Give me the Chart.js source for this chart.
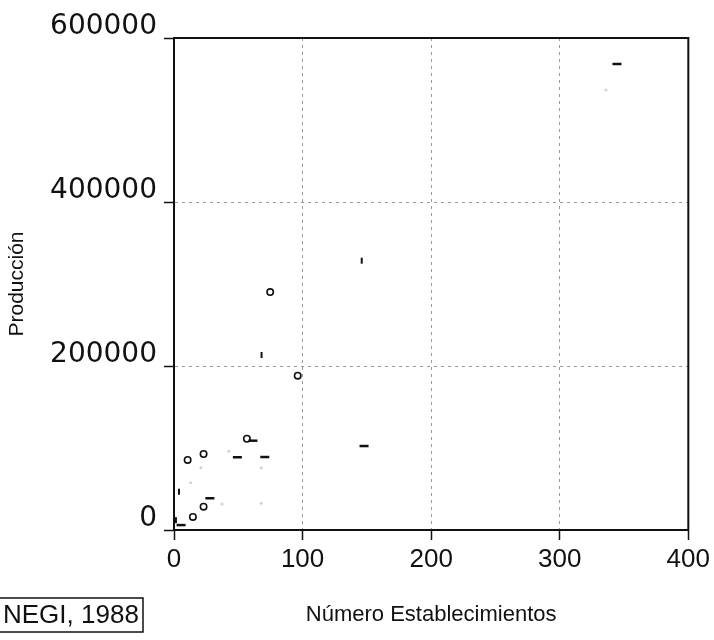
<!DOCTYPE html>
<html>
<head>
<meta charset="utf-8">
<script src="https://cdn.jsdelivr.net/npm/chart.js@4.4.1/dist/chart.umd.min.js"></script>
<style>
  html, body { margin: 0; padding: 0; background: #fff; }
  #chart { display: block; }
</style>
</head>
<body>
<canvas id="chart" width="714" height="640"></canvas>
<script>
// values (x = establecimientos, y = produccion)
const circleX = [10.6, 23, 56.7, 23, 14.7, 74.8, 96.2];
const circleY = [85400, 92700, 111300, 28400, 15900, 290200, 188200];

const dashX = [61.4, 49.3, 70.6, 27.9, 5.5, 147.8, 344.5];
const dashY = [108900, 88700, 89000, 38700, 6000, 102400, 568300];

const tickX = [3.9, 1.5, 68.1, 146];
const tickY = [46700, 12000, 213400, 328400];

const faintX = [42.6, 20.9, 67.9, 12.9, 37.4, 67.9, 336];
const faintY = [96000, 76000, 76000, 57700, 31700, 32600, 536600];

const xTicks = [0, 100, 200, 300, 400];
const yTicks = [0, 200000, 400000, 600000];

const xTitle = "Número Establecimientos";
const yTitle = "Producción";
const sourceNote = "NEGI, 1988";

function pts(xs, ys) {
  return xs.map((x, i) => ({ x: x, y: ys[i] }));
}

const xMax = xTicks[xTicks.length - 1];
const yMax = yTicks[yTicks.length - 1];

function gridColor(max) {
  return ctx => (ctx.tick && (ctx.tick.value === 0 || ctx.tick.value === max)) ? "rgba(0,0,0,0)" : "#9a9a9a";
}

// box round the chart area + source note at bottom left
const framePlugin = {
  id: "frame",
  afterDraw(chart) {
    const ctx = chart.ctx;
    const a = chart.chartArea;
    ctx.save();
    ctx.strokeStyle = "#111";
    ctx.lineWidth = 2;
    ctx.strokeRect(a.left, a.top, a.right - a.left, a.bottom - a.top);
    ctx.lineWidth = 1.5;
    ctx.strokeRect(-2, 598, 145, 34);
    ctx.fillStyle = "#111";
    ctx.font = "26px 'Liberation Sans', Arial, sans-serif";
    ctx.textBaseline = "middle";
    ctx.fillText(sourceNote, 3, 616);
    ctx.restore();
  }
};

new Chart(document.getElementById("chart"), {
  type: "scatter",
  data: {
    datasets: [
      {
        label: "faint",
        data: pts(faintX, faintY),
        pointStyle: "circle",
        pointRadius: 1.5,
        backgroundColor: "#d2d2d2",
        borderColor: "#d2d2d2",
        borderWidth: 0,
        clip: false
      },
      {
        label: "circles",
        data: pts(circleX, circleY),
        pointStyle: "circle",
        pointRadius: 3.2,
        backgroundColor: "rgba(0,0,0,0)",
        borderColor: "#111",
        borderWidth: 1.6,
        clip: false
      },
      {
        label: "dashes",
        data: pts(dashX, dashY),
        pointStyle: "line",
        pointRadius: 4.5,
        borderColor: "#111",
        borderWidth: 2.5,
        clip: false
      },
      {
        label: "ticks",
        data: pts(tickX, tickY),
        pointStyle: "line",
        pointRotation: 90,
        pointRadius: 3,
        borderColor: "#111",
        borderWidth: 2,
        clip: false
      }
    ]
  },
  options: {
    responsive: false,
    animation: false,
    events: [],
    layout: { padding: { top: 38, right: 23, left: 0, bottom: 0 } },
    plugins: {
      legend: { display: false },
      tooltip: { enabled: false }
    },
    scales: {
      x: {
        type: "linear",
        min: 0,
        max: xMax,
        afterBuildTicks: s => { s.ticks = xTicks.map(v => ({ value: v })); },
        afterFit: s => { s.height = 110; },
        grid: {
          color: gridColor(xMax),
          lineWidth: 1,
          tickColor: "#111",
          tickWidth: 1.5,
          tickLength: 10
        },
        border: { display: true, color: "#111", width: 2, dash: [3, 4] },
        ticks: {
          color: "#111",
          padding: 4,
          maxRotation: 0,
          font: { family: "'Liberation Sans', Arial, sans-serif", size: 26 }
        },
        title: {
          display: true,
          text: xTitle,
          color: "#111",
          padding: { top: 0, bottom: 12 },
          font: { family: "'Liberation Sans', Arial, sans-serif", size: 22 }
        }
      },
      y: {
        type: "linear",
        min: 0,
        max: yMax,
        afterBuildTicks: s => { s.ticks = yTicks.map(v => ({ value: v })); },
        afterFit: s => { s.width = 174; },
        grid: {
          color: gridColor(yMax),
          lineWidth: 1,
          tickColor: "#111",
          tickWidth: 1.5,
          tickLength: 10
        },
        border: { display: true, color: "#111", width: 2, dash: [3, 4] },
        ticks: {
          color: "#111",
          padding: 7,
          labelOffset: -11,
          callback: v => String(v),
          font: { family: "'DejaVu Sans', sans-serif", size: 28 }
        },
        title: {
          display: true,
          text: yTitle,
          color: "#111",
          padding: { top: 5, bottom: 0 },
          font: { family: "'Liberation Sans', Arial, sans-serif", size: 21 }
        }
      }
    }
  },
  plugins: [framePlugin]
});
</script>
</body>
</html>
